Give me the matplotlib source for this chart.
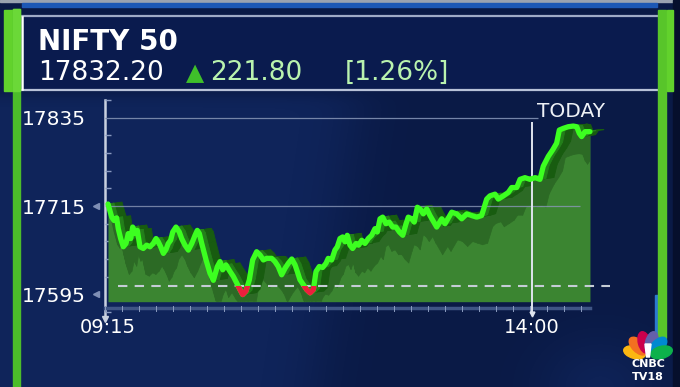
import numpy as np
import matplotlib
matplotlib.use("Agg")
import matplotlib.pyplot as plt
from matplotlib.patches import Rectangle, Ellipse, Polygon
from matplotlib.collections import PolyCollection

# ---------------- data ----------------
TITLE = "NIFTY 50"
LAST = "17832.20"
CHANGE = "221.80"
PCT = "[1.26%]"

# minutes after 09:15
minutes = [0, 2.5, 4.0, 5.8, 6.9, 8.5, 10.3, 12.1, 13.6, 15.3,
           16.6, 18.1, 19.7, 21.5, 23.7, 26.0, 28.2, 30.4, 32.3, 33.8,
           35.4, 37.2, 39.0, 40.5, 42.1, 43.5, 45.7, 47.9, 49.5, 51.7,
           54.0, 56.3, 58.5, 60.0, 61.4, 63.0, 65.9, 68.5, 70.8, 73.5,
           75.3, 77.1, 79.3, 82.0, 84.2, 86.5, 88.7, 90.5, 92.7, 95.0,
           97.2, 99.9, 102.2, 104.4, 106.7, 110.0, 112.2, 114.4, 116.7, 119.0,
           121.2, 123.5, 125.7, 127.2, 129.0, 131.3, 133.5, 135.8, 138.0, 139.8,
           142.0, 144.3, 146.5, 148.0, 150.3, 152.5, 154.1, 155.9, 157.7, 159.3,
           160.8, 162.6, 164.4, 166.7, 168.5, 170.5, 172.7, 174.9, 177.2, 179.4,
           181.0, 182.8, 184.6, 186.8, 189.0, 191.3, 193.5, 195.8, 198.1, 200.3,
           201.8, 204.1, 205.8, 207.9, 209.7, 211.9, 214.2, 216.4, 220.9, 224.3,
           226.5, 231.0, 234.3, 237.7, 241.1, 244.4, 247.8, 251.1, 254.5, 256.7,
           260.1, 262.3, 265.7, 269.0, 271.3, 274.7, 276.9, 280.2, 283.6, 287.0,
           290.3, 292.5, 295.9, 298.9, 301.5, 303.3, 306.0, 309.3, 312.7, 315.0,
           316.7, 318.3, 320.6, 323.9]
values = [17717.7, 17699.9, 17695.3, 17698.9, 17684.2, 17670.8, 17659.6, 17664.1, 17677.5, 17670.8,
          17686.4, 17677.5, 17681.9, 17659.6, 17657.3, 17661.8, 17659.6, 17664.1, 17670.8, 17666.3,
          17659.6, 17650.6, 17656.0, 17664.1, 17668.5, 17679.7, 17686.4, 17679.7, 17670.8, 17661.8,
          17655.1, 17664.1, 17675.2, 17681.9, 17677.5, 17664.1, 17641.7, 17623.8, 17614.0, 17632.8,
          17639.5, 17628.3, 17635.0, 17626.1, 17619.4, 17610.4, 17601.4, 17594.7, 17599.3, 17614.8,
          17641.7, 17652.9, 17648.4, 17641.7, 17643.9, 17643.9, 17639.5, 17632.8, 17621.5, 17630.5,
          17637.2, 17643.0, 17635.0, 17626.1, 17614.8, 17608.1, 17601.4, 17597.0, 17601.4, 17626.1,
          17632.8, 17631.5, 17637.2, 17643.9, 17641.7, 17655.1, 17659.6, 17670.8, 17673.0, 17666.3,
          17675.2, 17661.8, 17657.3, 17664.1, 17661.8, 17668.5, 17664.1, 17670.8, 17675.2, 17684.2,
          17679.7, 17697.6, 17699.9, 17690.9, 17693.1, 17686.4, 17686.4, 17679.7, 17675.2, 17690.9,
          17699.9, 17697.6, 17693.1, 17713.3, 17711.0, 17704.3, 17711.0, 17702.0, 17686.4, 17697.6,
          17690.9, 17706.6, 17704.3, 17697.6, 17704.3, 17702.0, 17699.9, 17702.0, 17724.4, 17728.8,
          17731.1, 17724.4, 17728.8, 17733.4, 17740.1, 17740.1, 17751.2, 17753.5, 17751.2, 17753.5,
          17751.2, 17769.0, 17782.4, 17791.4, 17800.4, 17818.2, 17820.5, 17822.7, 17823.6, 17822.7,
          17813.8, 17809.3, 17816.0, 17816.0]

PREV_CLOSE = 17606
BASE = 17585
y_ticks = [17595, 17715, 17835]
y_tick_labels = ["17595", "17715", "17835"]
x_ticks = [0, 285]
x_tick_labels = ["09:15", "14:00"]
TODAY_MIN = 285
TODAY_LABEL = "TODAY"

# ---------------- layout calibration (pixels) ----------------
W, H = 680, 387
PX_T0, PX_PER_MIN = 108.0, 1.488
PX_V0, PX_PER_PT = 296.5, 0.7458


def t_of_px(x):
    return (x - PX_T0) / PX_PER_MIN


def v_of_px(y):
    return 17595 + (PX_V0 - y) / PX_PER_PT


fig = plt.figure(figsize=(W / 100, H / 100), dpi=100)

# background / decoration axes in pixel coordinates
bg = fig.add_axes([0, 0, 1, 1])
bg.set_xlim(0, W)
bg.set_ylim(H, 0)
bg.axis("off")

yy, xx = np.mgrid[0:H, 0:W].astype(float)
base_c = np.array([10, 26, 70]) / 255
light_c = np.array([17, 40, 98]) / 255
bound = 345 - 0.15 * (yy - 180)
m = 1 / (1 + np.exp((xx - bound) / 18))
m *= 1 / (1 + np.exp(-(yy - 95) / 4))
m2 = np.exp(-(((xx - 600) / 60) ** 2 + ((yy - 387) / 50) ** 2))
m = np.clip(m * 0.75 + m2 * 0.6, 0, 1)
img = base_c * (1 - m[..., None]) + light_c * m[..., None]
bg.imshow(img, extent=(0, W, H, 0), aspect="auto", zorder=0)

# header panel
bg.add_patch(Rectangle((0, 0), W, 1.5, color="#9aa3b0", zorder=1))
bg.add_patch(Rectangle((22, 3), 635, 4, color="#1c58b5", zorder=1))
bg.add_patch(Rectangle((22, 17), 640, 72, color="#0a1b4e", zorder=1))
bg.plot([20, 662], [16, 16], color="#9fabc6", lw=1.6, zorder=2)
bg.plot([20, 662], [89.5, 89.5], color="#b8c2d8", lw=1.6, zorder=2)
bg.plot([21.5, 21.5], [17, 89], color="white", lw=1.8, zorder=2)

# green side bars
bg.add_patch(Rectangle((4, 10), 8.5, 81, color="#62d22c", zorder=3))
bg.add_patch(Rectangle((13, 9), 7, 378, color="#4cbd2a", zorder=3))
bg.add_patch(Rectangle((13, 9), 7, 82, color="#6bd838", zorder=3))
bg.add_patch(Rectangle((673, 0), 7, H, color="#060f2c", zorder=3))
bg.add_patch(Rectangle((654.5, 295), 3.5, 42, color="#2a7ad0", zorder=3))
bg.add_patch(Rectangle((657.5, 10), 8.5, 328, color="#58c52a", zorder=3))
bg.add_patch(Rectangle((666.5, 10), 6.5, 81, color="#62d22c", zorder=3))

# header texts
bg.text(38, 50, TITLE, fontsize=20, fontweight="bold", color="white", va="baseline", zorder=4)
bg.text(38, 80, LAST, fontsize=19, color="white", va="baseline", zorder=4)
bg.text(186, 80, "\u25B2", fontsize=17, color="#3fbf2a", va="baseline", zorder=4)
bg.text(210, 80, CHANGE, fontsize=19, color="#b9f3ae", va="baseline", zorder=4)
bg.text(345, 80, PCT, fontsize=19, color="#b9f3ae", va="baseline", zorder=4)

# y axis line and bottom tick strip
bg.plot([105, 105], [100, 318], color="#c9d1e0", lw=1.8, zorder=2)
bg.plot([105], [319], marker="v", ms=4, color="#c9d1e0", zorder=2)
bg.plot([105, 590], [308, 308], color="#3f5585", lw=2.5, zorder=2)
for xt in np.arange(105, 591, 17):
    bg.plot([xt, xt], [305.5, 310.5], color="#8c9cc0", lw=0.7, zorder=2)
bg.plot([532], [314], marker="v", ms=3.5, color="#dfe4ee", zorder=2)

# TODAY label
bg.text(537, 117, TODAY_LABEL, fontsize=14.5, color="#eef1f6", ha="left", va="baseline", zorder=4)

# CNBC TV18 logo
bx, by = 648, 356
feather_cols = ["#fcb711", "#f37021", "#cc004c", "#6460aa", "#0089d0", "#0db14b"]
for k, col in enumerate(feather_cols):
    a = np.radians(165 - 30 * k)
    cx, cy = bx + 14 * np.cos(a), by - 14 * np.sin(a)
    bg.add_patch(Ellipse((cx, cy), 22, 12, angle=-np.degrees(a), color=col, zorder=5))
bg.add_patch(Polygon([(bx - 3, by - 12), (bx + 3, by - 12), (bx + 1.5, by + 1), (bx - 1.5, by + 1)],
                     color="white", zorder=6))
bg.text(bx, 364, "CNBC", fontsize=8, fontweight="bold", color="white", ha="center", va="center", zorder=6)
bg.text(bx, 376.5, "TV18", fontsize=8, fontweight="bold", color="white", ha="center", va="center", zorder=6)

# ---------------- chart axes ----------------
ax_l, ax_r, ax_t, ax_b = 105, 620, 100, 312
ax = fig.add_axes([ax_l / W, 1 - ax_b / H, (ax_r - ax_l) / W, (ax_b - ax_t) / H])
ax.set_facecolor("none")
xlim = (t_of_px(ax_l), t_of_px(ax_r))
ylim = (v_of_px(ax_b), v_of_px(ax_t))
ax.set_xlim(*xlim)
ax.set_ylim(*ylim)
for s in ax.spines.values():
    s.set_visible(False)
ax.set_yticks(y_ticks, y_tick_labels)
ax.set_xticks(x_ticks, x_tick_labels)
ax.tick_params(axis="both", which="major", length=0, colors="white")
ax.tick_params(axis="y", labelsize=14.5, pad=14)
ax.tick_params(axis="x", labelsize=14, pad=4)
ax.set_yticks(np.arange(17571, 17860, 24), minor=True)
ax.tick_params(axis="y", which="minor", direction="in", length=4, color="#8a9ac0", width=1)

t = np.array(minutes)
v = np.array(values)

# grid lines
ax.hlines(17835, t_of_px(105), t_of_px(538), colors="#7585a8", lw=0.9, zorder=1)
ax.hlines(17715, t_of_px(105), t_of_px(580), colors="#8a98b8", lw=0.9, alpha=0.8, zorder=5)

# area
fill = ax.fill_between(t, v, BASE, color="#3b8531", lw=0, zorder=2)


def quads(dxp, dyp):
    dx, dy = dxp / PX_PER_MIN, dyp / PX_PER_PT
    return [[(t[i], v[i]), (t[i + 1], v[i + 1]), (t[i + 1] + dx, v[i + 1] + dy), (t[i] + dx, v[i] + dy)]
            for i in range(len(t) - 1)]


shadow = PolyCollection(quads(6, -28), facecolors="#2c6a25", edgecolors="#2c6a25", lw=0.5, zorder=3)
ax.add_collection(shadow)
shadow.set_clip_path(fill.get_paths()[0], ax.transData)

ext1 = PolyCollection(quads(14, 2), facecolors="#185c10", edgecolors="#185c10", lw=0.6, zorder=4)
ax.add_collection(ext1)
ext2 = PolyCollection(quads(6, 1), facecolors="#23801a", edgecolors="#23801a", lw=0.6, zorder=4.1)
ax.add_collection(ext2)

# previous close dashed line and 14:00 marker
ax.hlines(PREV_CLOSE, t_of_px(118), t_of_px(610), colors="#c5ccd6", linestyles=(0, (4.5, 3.5)),
          lw=1.5, zorder=5)
ax.vlines(TODAY_MIN, v_of_px(314), v_of_px(122), colors="#dfe4ee", lw=1.4, zorder=5.5)

# main line
ax.plot(t, v, color="#3cff20", lw=3.8, solid_joinstyle="round", solid_capstyle="round", zorder=6)
red, = ax.plot(t, v, color="#ec1f3d", lw=3.8, solid_joinstyle="round", zorder=7)
clip = Rectangle((xlim[0], ylim[0]), xlim[1] - xlim[0], PREV_CLOSE - ylim[0], transform=ax.transData)
red.set_clip_path(clip)

# tick arrows
ax.plot([-0.0175, -0.0175], [17715, 17595], transform=ax.get_yaxis_transform(), ls="none",
        marker="<", ms=5, color="#7f8fb5", clip_on=False, zorder=5)

fig.savefig("out.png", dpi=100)
